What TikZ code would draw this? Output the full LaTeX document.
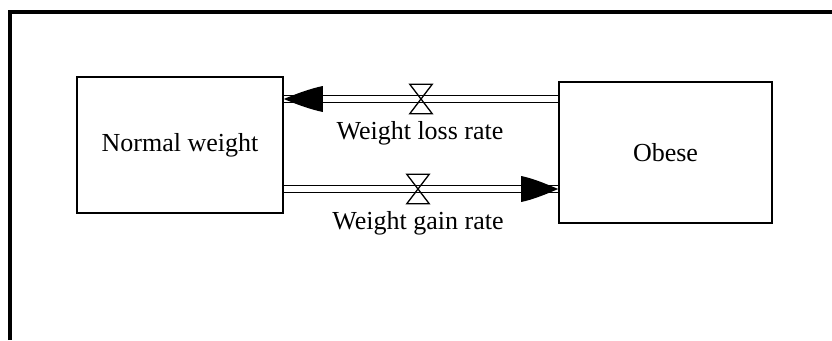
\documentclass[tikz,border=0pt]{standalone}
\usepackage{fontspec}
\setmainfont{Liberation Serif}
\begin{document}
\begin{tikzpicture}[x=1pt,y=-1pt,
  stock/.style={draw, line width=1.6pt, inner sep=0pt, font=\fontsize{26}{30}\selectfont},
  valve/.style={inner sep=0pt, minimum width=22pt, minimum height=29pt},
  lbl/.style={inner sep=0pt, anchor=base, font=\fontsize{26}{30}\selectfont},
  pipe/.style={line width=1.6pt},
  head/.style={fill=black}]
\useasboundingbox (0,0) rectangle (832,340);
% outer frame (cut at right and bottom)
\coordinate (fa) at (10,340);
\coordinate (fb) at (10,12);
\coordinate (fc) at (832,12);
\draw[line width=3.2pt] (fa) -- (fb) -- (fc);
% stocks
\node[stock, minimum width=206pt, minimum height=136pt] (normal) at (180,145) {Normal weight};
\node[stock, minimum width=213pt, minimum height=141pt] (obese) at (665.5,152.5) {Obese};
% valves
\node[valve] (v1) at (421,99) {};
\node[valve] (v2) at (418,189) {};
% labels
\node[lbl] (l1) at (420,139) {Weight loss rate};
\node[lbl] (l2) at (418,229) {Weight gain rate};
% upper flow: obese -> normal
\coordinate (u1) at (obese.west |- v1);
\coordinate (u2) at (normal.east |- v1);
\draw[pipe] ([yshift=-3.6pt]u1) -- ([yshift=-3.6pt]u2);
\draw[pipe] ([yshift=3.6pt]u1) -- ([yshift=3.6pt]u2);
\fill[head] (u2) .. controls +(13,-5.5) and +(-12,2.5) .. ++(39,-13) -- ++(0,26) .. controls +(-12,-2.5) and +(13,5.5) .. (u2);
% lower flow: normal -> obese
\coordinate (d1) at (normal.east |- v2);
\coordinate (d2) at (obese.west |- v2);
\draw[pipe] ([yshift=-3.6pt]d1) -- ([yshift=-3.6pt]d2);
\draw[pipe] ([yshift=3.6pt]d1) -- ([yshift=3.6pt]d2);
\fill[head] (d2) .. controls +(-13,-5.5) and +(12,2.5) .. ++(-37,-13) -- ++(0,26) .. controls +(12,-2.5) and +(-13,5.5) .. (d2);
% valve glyphs
\draw[line width=1.3pt] (v1.north west) -- (v1.north east) -- (v1.south west) -- (v1.south east) -- cycle;
\draw[line width=1.3pt] (v2.north west) -- (v2.north east) -- (v2.south west) -- (v2.south east) -- cycle;
\end{tikzpicture}
\end{document}
